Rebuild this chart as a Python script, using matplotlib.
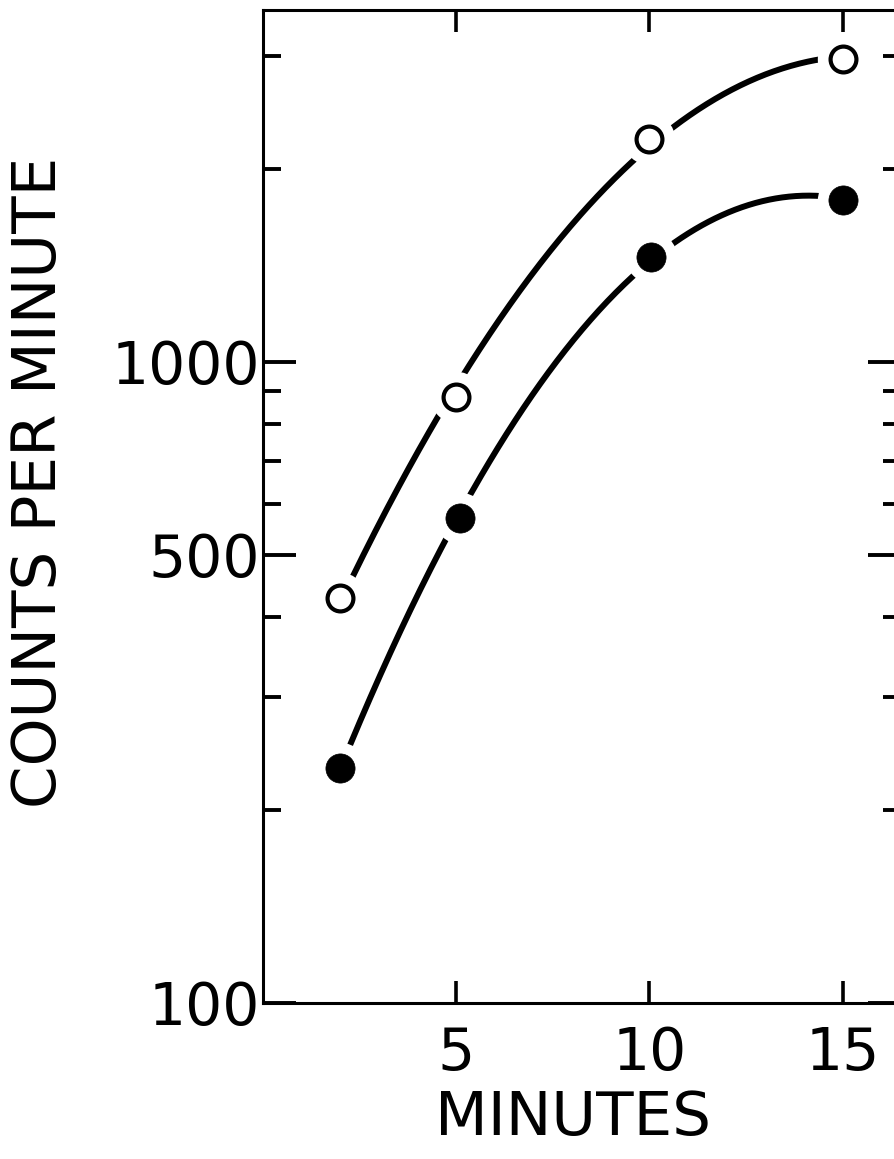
import numpy as np
import matplotlib
matplotlib.use('Agg')
import matplotlib.pyplot as plt
from matplotlib.ticker import FixedLocator, FixedFormatter, NullFormatter

# ---- data ----
minutes_open = [2, 5, 10, 15]
cpm_open = [428, 882, 2230, 2970]
minutes_filled = [2, 5.1, 10.05, 15]
cpm_filled = [233, 571, 1460, 1790]

x_ticks = [5, 10, 15]
x_tick_labels = ['5', '10', '15']
y_major = [100, 500, 1000]
y_major_labels = ['100', '500', '1000']
y_minor = [200, 300, 400, 600, 700, 800, 900, 2000, 3000]

plt.rcParams['font.family'] = ['DejaVu Sans']

W, H = 894, 1159
fig = plt.figure(figsize=(W / 100, H / 100), dpi=100)
ax = fig.add_axes([262.5 / W, (H - 1003) / H, (901 - 262.5) / W, (1003 - 10) / H])
ax.set_yscale('log')
ax.set_xlim(0, 16.5)
ax.set_ylim(100, 3540)


def smooth(xs, ys):
    c = np.polyfit(xs, np.log10(ys), 2)
    xx = np.linspace(min(xs), max(xs), 300)
    return xx, 10 ** np.polyval(c, xx)


for xs, ys, face in [(minutes_open, cpm_open, 'white'), (minutes_filled, cpm_filled, 'black')]:
    cx, cy = smooth(xs, ys)
    ax.plot(cx, cy, color='black', lw=4.3, solid_capstyle='round', zorder=1.5)
    ax.plot(xs, ys, 'o', ms=37, mfc='white', mec='none', zorder=2)
    if face == 'white':
        ax.plot(xs, ys, 'o', ms=18.6, mfc='white', mec='black', mew=3.0, zorder=3)
    else:
        ax.plot(xs, ys, 'o', ms=21, mfc='black', mec='black', mew=0.5, zorder=3)

for s in ax.spines.values():
    s.set_linewidth(2.2)

ax.xaxis.set_major_locator(FixedLocator(x_ticks))
ax.xaxis.set_major_formatter(FixedFormatter(x_tick_labels))
ax.xaxis.set_minor_locator(FixedLocator([]))
ax.yaxis.set_major_locator(FixedLocator(y_major))
ax.yaxis.set_major_formatter(FixedFormatter(y_major_labels))
ax.yaxis.set_minor_locator(FixedLocator(y_minor))
ax.yaxis.set_minor_formatter(NullFormatter())

ax.tick_params(axis='x', which='major', direction='in', top=True, bottom=True,
               length=16, width=2.6, labelsize=42, pad=16)
ax.tick_params(axis='y', which='major', direction='in', left=True, right=True,
               length=24, width=2.8, labelsize=42, pad=2)
ax.tick_params(axis='y', which='minor', direction='in', left=True, right=True,
               length=13, width=2.8)

# the tick at 100 sits in the corner and is not drawn in the original
for t in ax.yaxis.get_major_ticks():
    if abs(t.get_loc() - 100) < 1e-6:
        t.tick1line.set_visible(False)
        t.tick2line.set_visible(False)

fig.text(40 / W, 1 - 482 / H, 'COUNTS PER MINUTE', rotation=90, ha='center', va='center',
         fontsize=44)
fig.text(573 / W, 1 - 1118 / H, 'MINUTES', ha='center', va='center', fontsize=44)

fig.savefig('out.png', dpi=100, facecolor='white')
